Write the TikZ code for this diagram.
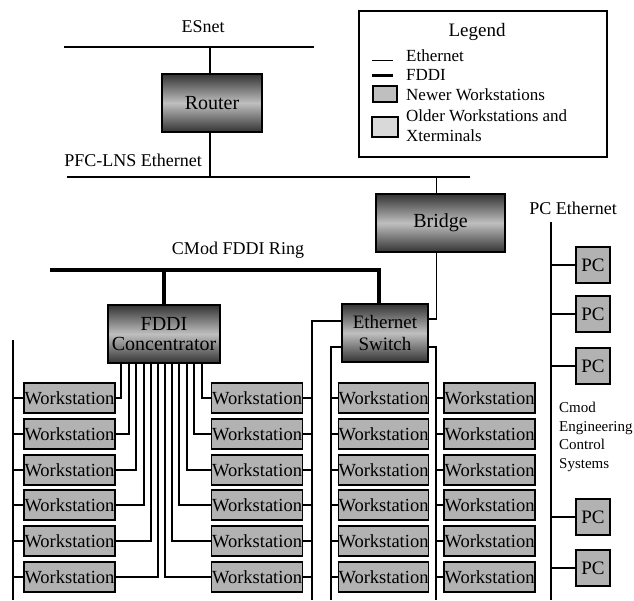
\documentclass[tikz,border=0pt]{standalone}
\usepackage{fontspec}
\setmainfont{Liberation Serif}
\usetikzlibrary{calc}
\begin{document}
\begin{tikzpicture}[x=1pt,y=-1pt,
  eth/.style={line width=1.6pt},
  fddi/.style={line width=3.2pt},
  fan/.style={line width=2.6pt},
  lbl/.style={font=\fontsize{18}{20}\selectfont, inner sep=0},
  leg/.style={font=\fontsize{17}{18}\selectfont, inner sep=0, anchor=west},
  dev/.style={draw, line width=1.8pt, top color=black!80, bottom color=black!80, middle color=black!25, font=\fontsize{20}{21}\selectfont, inner sep=0, align=center},
  ws/.style={draw, line width=1.8pt, fill=black!30, minimum width=91, minimum height=30, inner sep=0, font=\fontsize{18.5}{19}\selectfont},
  pc/.style={draw, line width=1.8pt, fill=black!30, minimum width=34, minimum height=36, inner sep=0, font=\fontsize{19}{20}\selectfont}
]
\useasboundingbox (0,0) rectangle (634,600);

% ESnet and router
\node[lbl] (esnet) at (203,27) {ESnet};
\coordinate (es1) at (64,47);
\coordinate (es2) at (314,47);
\draw[eth] (es1) -- (es2);
\node[dev, minimum width=100, minimum height=58] (router) at (212,103) {Router};
\draw[eth] ([xshift=-2]router.north) -- ([xshift=-2]router.north |- es1);

% PFC-LNS Ethernet
\node[lbl] (pfc) at (133,160) {PFC-LNS Ethernet};
\coordinate (pf1) at (67,177);
\coordinate (pf2) at (470,177);
\draw[eth] (pf1) -- (pf2);
\draw[eth] ([xshift=-2]router.south) -- ([xshift=-2]router.south |- pf1);

% Bridge
\node[dev, minimum width=129, minimum height=58] (bridge) at (440.5,223) {Bridge};
\draw[eth] ([xshift=-4]bridge.north) -- ([xshift=-4]bridge.north |- pf1);

% FDDI ring
\node[lbl] (ring) at (238,250) {CMod FDDI Ring};
\coordinate (ringL) at (50,270);
\coordinate (ringR) at (379,270);

% Concentrator and switch
\node[dev, minimum width=112, minimum height=58, font=\fontsize{20}{20}\selectfont] (conc) at (164,334) {FDDI\\Concentrator};
\node[dev, minimum width=86, minimum height=58, font=\fontsize{19}{22}\selectfont] (switch) at (385,333) {Ethernet\\Switch};
\draw[fddi] (ringL) -- (ringR) -- (ringR |- switch.north);
\draw[fddi] (conc.north) -- (conc.north |- ringL);

% Ethernet segments
\coordinate (lt) at (13,340);
\coordinate (lb) at (13,600);
\coordinate (sL1) at (312,600);
\coordinate (sL2) at (331,600);
\coordinate (sR) at (436,600);
\draw[eth] (lt) -- (lb);
\draw[eth] ($(switch.north west)+(0,18)$) -| (sL1);
\draw[eth] ($(switch.north west)+(0,44)$) -| (sL2);
\draw[eth] ($(switch.north east)+(0,44)$) -| (sR);
\draw[eth] ([xshift=-4]bridge.south) |- ($(switch.north east)+(0,16)$);

% Workstations
\foreach \i/\y in {1/398,2/434,3/470,4/505,5/541,6/577} {
  \node[ws] (a\i) at (69.5,\y) {Workstation};
  \node[ws] (b\i) at (257,\y) {Workstation};
  \node[ws, minimum width=89] (c\i) at (383.5,\y) {Workstation};
  \node[ws] (d\i) at (489.5,\y) {Workstation};
  \draw[eth] (a\i.west) -- (a\i.west -| lt);
  \draw[eth] (b\i.east) -- (b\i.east -| sL1);
  \draw[eth] (c\i.west) -- (c\i.west -| sL2);
  \draw[eth] (d\i.west) -- (d\i.west -| sR);
}
\foreach \i/\o in {1/14,2/22,3/29,4/37,5/44,6/51}
  \draw[fan] (a\i.east) -| ([xshift=\o]conc.south west);
\foreach \i/\o in {1/95,2/87,3/80,4/72,5/65,6/58}
  \draw[fan] (b\i.west) -| ([xshift=\o]conc.south west);

% PC Ethernet
\node[lbl] (pceth) at (573,208) {PC Ethernet};
\coordinate (pt) at (551,222);
\coordinate (pb) at (551,600);
\draw[eth] (pt) -- (pb);
\foreach \i/\y in {1/265,2/314,3/366,4/517,5/568} {
  \node[pc] (p\i) at (593,\y) {PC};
  \draw[eth] (p\i.west) -- (p\i.west -| pt);
}
\node[anchor=north west, inner sep=0, align=left, font=\fontsize{15}{18.5}\selectfont] (cmod) at (559,402) {Cmod\\Engineering\\Control\\Systems};

% Legend
\node[draw, line width=2pt, minimum width=248, minimum height=146, anchor=north west, inner sep=0] (legend) at (358,10) {};
\node[font=\fontsize{19}{20}\selectfont, inner sep=0] (legtitle) at (477,32) {Legend};
\draw[line width=1pt] (372,60) -- (393,60);
\node[leg] (l1) at (406,56) {Ethernet};
\draw[line width=3pt] (372,75) -- (393,75);
\node[leg] (l2) at (406,75) {FDDI};
\draw[line width=1.5pt, fill=black!25] (373,86) rectangle (397,102);
\node[leg] (l3) at (406,95) {Newer Workstations};
\draw[line width=1.5pt, fill=black!15] (372,117) rectangle (398,137);
\node[leg, align=left, font=\fontsize{17}{20}\selectfont] (l4) at (406,126) {Older Workstations and\\Xterminals};
\end{tikzpicture}
\end{document}
